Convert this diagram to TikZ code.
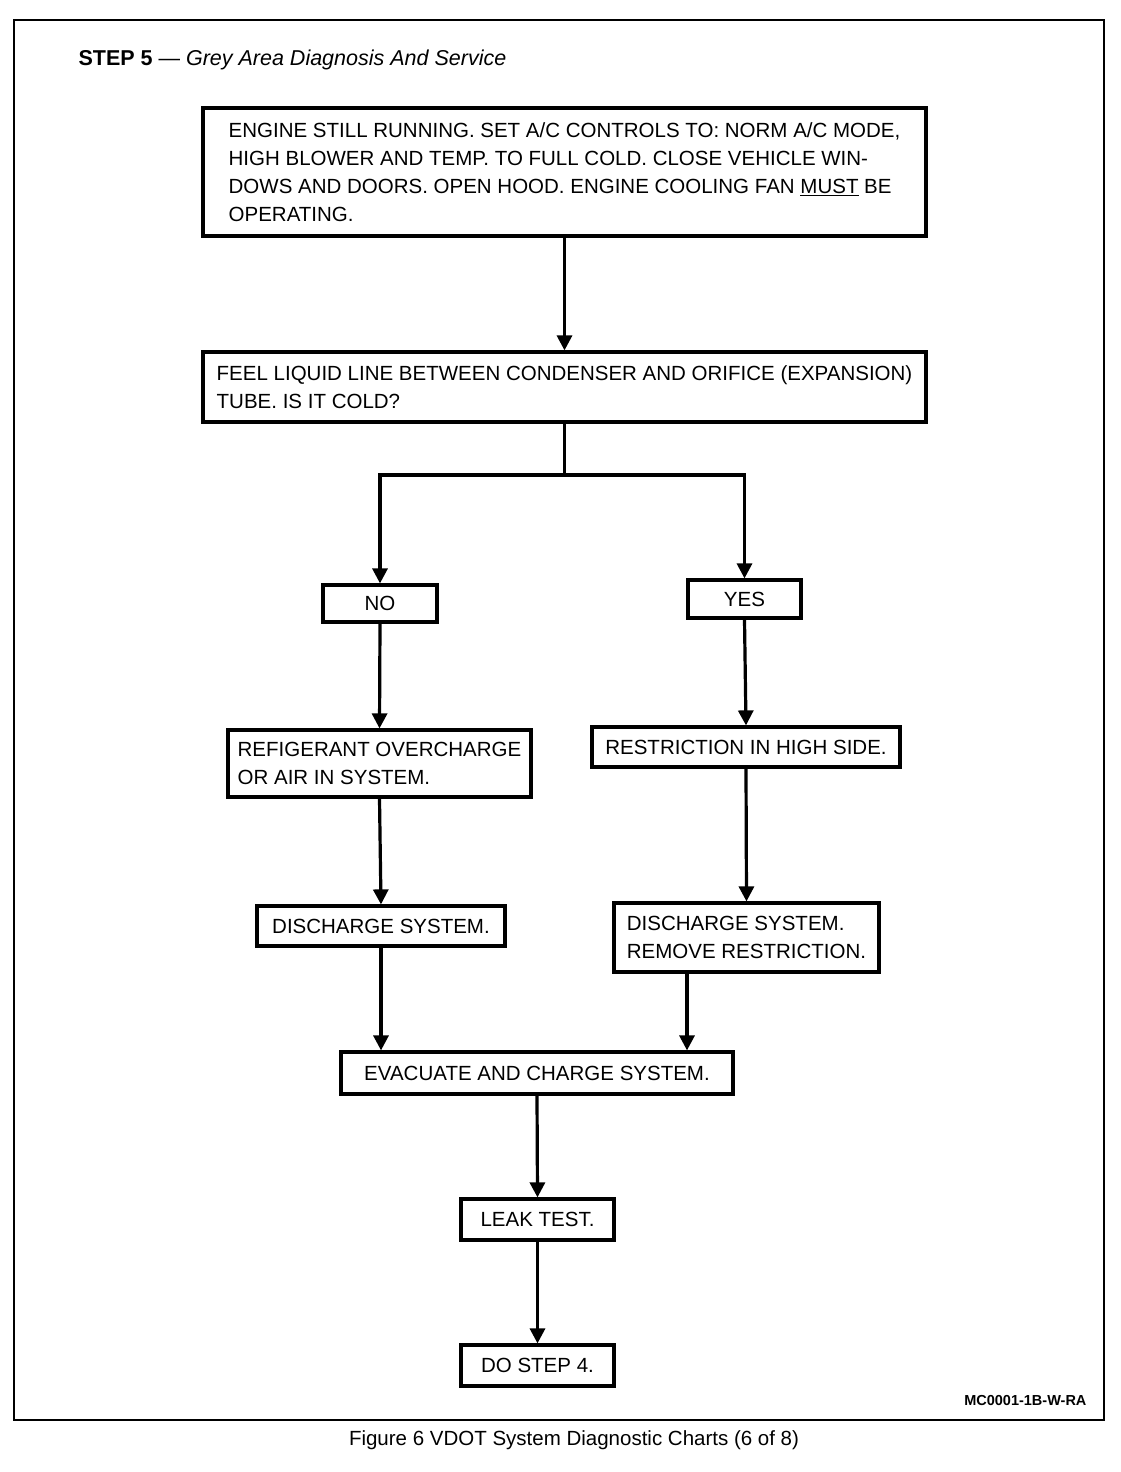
\documentclass[tikz,border=0pt]{standalone}
\usepackage{fontspec}
\setmainfont{Liberation Sans}
\usetikzlibrary{arrows.meta}

\begin{document}
\begin{tikzpicture}[x=1pt,y=-1pt,
 box/.style={draw,line width=3.2pt,align=left,inner sep=0pt,font=\fontsize{20.5}{28}\selectfont},
 flow/.style={line width=3.2pt,->,>={Triangle[length=15pt,width=15pt]}}]
 \useasboundingbox (0,0) rectangle (1120,1472); %画像の大きさ
 \draw[line width=2.4pt] (14,20) rectangle (1104,1420); %外枠
 \node[anchor=west,font=\fontsize{21.5}{25}\selectfont] (title) at (75,60) {\textbf{STEP 5} --- \textit{Grey Area Diagnosis And Service}}; %見出し
 \node[box,minimum width=723pt,minimum height=128pt] (start) at (564.5,172) {ENGINE STILL RUNNING. SET A/C CONTROLS TO: NORM A/C MODE,\\HIGH BLOWER AND TEMP. TO FULL COLD. CLOSE VEHICLE WIN-\\DOWS AND DOORS. OPEN HOOD. ENGINE COOLING FAN \underline{MUST} BE\\OPERATING.}; %最初の箱
 \node[box,minimum width=723pt,minimum height=70pt] (feel) at (564.5,387) {FEEL LIQUID LINE BETWEEN CONDENSER AND ORIFICE (EXPANSION)\\TUBE. IS IT COLD?}; %質問
 \coordinate (fork) at (feel.south |- 0,475); %分岐点
 \node[box,minimum width=114pt,minimum height=37pt] (no) at (380,603.5) {NO}; %いいえ
 \node[box,minimum width=113pt,minimum height=38pt] (yes) at (744.5,599) {YES}; %はい
 \node[box,minimum width=303pt,minimum height=67pt] (over) at (379.5,763.5) {REFIGERANT OVERCHARGE\\OR AIR IN SYSTEM.}; %左の原因
 \node[box,minimum width=308pt,minimum height=40pt] (high) at (746,747) {RESTRICTION IN HIGH SIDE.}; %右の原因
 \node[box,minimum width=248pt,minimum height=40pt] (disL) at (381,926) {DISCHARGE SYSTEM.}; %左の処置
 \node[box,minimum width=265pt,minimum height=69pt] (disR) at (746.5,937.5) {DISCHARGE SYSTEM.\\REMOVE RESTRICTION.}; %右の処置
 \node[box,minimum width=392pt,minimum height=42pt] (evac) at (537,1073) {EVACUATE AND CHARGE SYSTEM.}; %合流
 \node[box,minimum width=153pt,minimum height=41pt] (leak) at (537.5,1219.5) {LEAK TEST.};
 \node[box,minimum width=153pt,minimum height=41pt] (step4) at (537.5,1365.5) {DO STEP 4.}; %最後
 \draw[flow] (start.south) -- (feel.north);
 \draw[line width=3.2pt] (feel.south) -- (fork);
 \draw[flow] (fork) -| (no.north); %左へ
 \draw[flow] (fork) -| (yes.north); %右へ
 \draw[flow] (no.south) -- (over.north);
 \draw[flow] (yes.south) -- (high.north);
 \draw[flow] (over.south) -- (disL.north);
 \draw[flow] (high.south) -- (disR.north);
 \draw[flow] (disL.south) -- (disL.south |- evac.north);
 \draw[flow] ([xshift=-59.5pt]disR.south) -- ([xshift=-59.5pt]disR.south |- evac.north);
 \draw[flow] (evac.south) -- (leak.north);
 \draw[flow] (leak.south) -- (step4.north);
 \node[anchor=east,font=\bfseries\fontsize{14.5}{17}\selectfont] (code) at (1090,1400) {MC0001-1B-W-RA}; %図番
 \node[font=\fontsize{20.5}{24}\selectfont] (caption) at (574,1440) {Figure 6 VDOT System Diagnostic Charts (6 of 8)}; %図の説明
\end{tikzpicture}
\end{document}
